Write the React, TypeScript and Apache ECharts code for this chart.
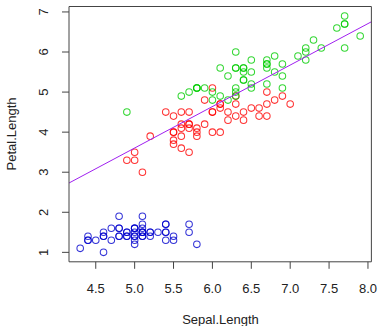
import React, { useEffect, useRef } from "react";
import * as echarts from "echarts";

// iris: Sepal.Length / Petal.Length by species
const setosaSepal = [5.1,4.9,4.7,4.6,5.0,5.4,4.6,5.0,4.4,4.9,5.4,4.8,4.8,4.3,5.8,5.7,5.4,5.1,5.7,5.1,5.4,5.1,4.6,5.1,4.8,5.0,5.0,5.2,5.2,4.7,4.8,5.4,5.2,5.5,4.9,5.0,5.5,4.9,4.4,5.1,5.0,4.5,4.4,5.0,5.1,4.8,5.1,4.6,5.3,5.0];
const setosaPetal = [1.4,1.4,1.3,1.5,1.4,1.7,1.4,1.5,1.4,1.5,1.5,1.6,1.4,1.1,1.2,1.5,1.3,1.4,1.7,1.5,1.7,1.5,1.0,1.7,1.9,1.6,1.6,1.5,1.4,1.6,1.6,1.5,1.5,1.4,1.5,1.2,1.3,1.4,1.3,1.5,1.3,1.3,1.3,1.6,1.9,1.4,1.6,1.4,1.5,1.4];
const versicolorSepal = [7.0,6.4,6.9,5.5,6.5,5.7,6.3,4.9,6.6,5.2,5.0,5.9,6.0,6.1,5.6,6.7,5.6,5.8,6.2,5.6,5.9,6.1,6.3,6.1,6.4,6.6,6.8,6.7,6.0,5.7,5.5,5.5,5.8,6.0,5.4,6.0,6.7,6.3,5.6,5.5,5.5,6.1,5.8,5.0,5.6,5.7,5.7,6.2,5.1,5.7];
const versicolorPetal = [4.7,4.5,4.9,4.0,4.6,4.5,4.7,3.3,4.6,3.9,3.5,4.2,4.0,4.7,3.6,4.4,4.5,4.1,4.5,3.9,4.8,4.0,4.9,4.7,4.3,4.4,4.8,5.0,4.5,3.5,3.8,3.7,3.9,5.1,4.5,4.5,4.7,4.4,4.1,4.0,4.4,4.6,4.0,3.3,4.2,4.2,4.2,4.3,3.0,4.1];
const virginicaSepal = [6.3,5.8,7.1,6.3,6.5,7.6,4.9,7.3,6.7,7.2,6.5,6.4,6.8,5.7,5.8,6.4,6.5,7.7,7.7,6.0,6.9,5.6,7.7,6.3,6.7,7.2,6.2,6.1,6.4,7.2,7.4,7.9,6.4,6.3,6.1,7.7,6.3,6.4,6.0,6.9,6.7,6.9,5.8,6.8,6.7,6.7,6.3,6.5,6.2,5.9];
const virginicaPetal = [6.0,5.1,5.9,5.6,5.8,6.6,4.5,6.3,5.8,6.1,5.1,5.3,5.5,5.0,5.1,5.3,5.5,6.7,6.9,5.0,5.7,4.9,6.7,4.9,5.7,6.0,4.8,4.9,5.6,5.8,6.1,6.4,5.6,5.1,5.6,6.1,5.6,5.5,4.8,5.4,5.6,5.1,5.1,5.9,5.7,5.2,5.0,5.2,5.4,5.1];

const xTicks = [4.5, 5.0, 5.5, 6.0, 6.5, 7.0, 7.5, 8.0];
const yTicks = [1, 2, 3, 4, 5, 6, 7];
const xRange = [4.156, 8.044];
const yRange = [0.764, 7.136];
const xTitle = "Sepal.Length";
const yTitle = "Petal.Length";
// fitted line (abline) coefficients
const lineIntercept = -1.571;
const lineSlope = 1.035;

const FONT = "'Liberation Sans', Arial, sans-serif";
const AXIS_COLOR = "#444";
const TEXT_COLOR = "#222";
const TICK_LEN = 7;
// open circle (ring) marker, like R's pch = 1
const RING = "path://M0,-4A4,4 0 1 1 0,4A4,4 0 1 1 0,-4ZM0,-2.9A2.9,2.9 0 1 0 0,2.9A2.9,2.9 0 1 0 0,-2.9Z";

const zip = (a: number[], b: number[]) => a.map((v, i) => [v, b[i]]);

export default function App() {
  const ref = useRef<HTMLDivElement>(null);
  useEffect(() => {
    document.body.style.margin = "0";
    if (!ref.current) return;
    const chart = echarts.init(ref.current, null, { renderer: "svg" });
    const pointSeries = (data: number[][], color: string) => ({
      type: "scatter",
      data,
      symbol: RING,
      symbolSize: 7.6,
      itemStyle: { color },
    });
    const lineEnds = xRange.map((x) => ({ coord: [x, lineIntercept + lineSlope * x] }));
    chart.setOption({
      animation: false,
      grid: { left: 69, right: 7.3, top: 6.5, bottom: 64.2 },
      xAxis: {
        type: "value",
        min: xRange[0],
        max: xRange[1],
        axisLine: { show: false },
        splitLine: { show: false },
        axisTick: { show: false },
        axisLabel: {
          customValues: xTicks,
          formatter: (v: number) => v.toFixed(1),
          margin: 20,
          fontFamily: FONT,
          fontSize: 13,
          color: TEXT_COLOR,
        },
      },
      yAxis: {
        type: "value",
        min: yRange[0],
        max: yRange[1],
        axisLine: { show: false },
        splitLine: { show: false },
        axisTick: { show: false },
        axisLabel: {
          customValues: yTicks,
          rotate: 90,
          align: "center",
          verticalAlign: "bottom",
          margin: 19,
          fontFamily: FONT,
          fontSize: 13,
          color: TEXT_COLOR,
        },
      },
      series: [
        pointSeries(zip(setosaSepal, setosaPetal), "#0000CD"),
        pointSeries(zip(versicolorSepal, versicolorPetal), "#FF0000"),
        {
          ...pointSeries(zip(virginicaSepal, virginicaPetal), "#00CD00"),
          clip: false,
          markLine: {
            silent: true,
            symbol: ["none", "none"],
            label: { show: false },
            lineStyle: { color: "#A020F0", width: 1, type: "solid" },
            emphasis: { disabled: true },
            data: [lineEnds],
          },
        },
      ],
    });

    // box and outward ticks, positioned through the axes' scales
    const px = (v: number) => chart.convertToPixel({ xAxisIndex: 0 }, v) as number;
    const py = (v: number) => chart.convertToPixel({ yAxisIndex: 0 }, v) as number;
    const left = px(xRange[0]);
    const right = px(xRange[1]);
    const top = py(yRange[1]);
    const bottom = py(yRange[0]);
    const stroke = { stroke: AXIS_COLOR, lineWidth: 1 };
    const graphics: any[] = [
      {
        type: "text",
        x: 220.5,
        y: 319,
        silent: true,
        style: { text: xTitle, font: `13px ${FONT}`, fill: TEXT_COLOR, align: "center", verticalAlign: "middle" },
      },
      {
        type: "text",
        x: 11,
        y: 134,
        rotation: Math.PI / 2,
        silent: true,
        style: { text: yTitle, font: `13px ${FONT}`, fill: TEXT_COLOR, align: "center", verticalAlign: "middle" },
      },
      {
        type: "rect",
        silent: true,
        z: 10,
        shape: { x: left, y: top, width: right - left, height: bottom - top },
        style: { fill: "none", ...stroke },
      },
    ];
    xTicks.forEach((t) => {
      const x = px(t);
      graphics.push({
        type: "line",
        silent: true,
        z: 10,
        shape: { x1: x, y1: bottom, x2: x, y2: bottom + TICK_LEN },
        style: stroke,
      });
    });
    yTicks.forEach((t) => {
      const y = py(t);
      graphics.push({
        type: "line",
        silent: true,
        z: 10,
        shape: { x1: left - TICK_LEN, y1: y, x2: left, y2: y },
        style: stroke,
      });
    });
    chart.setOption({ graphic: graphics });

    return () => chart.dispose();
  }, []);
  return <div ref={ref} style={{ width: 380, height: 326 }} />;
}
